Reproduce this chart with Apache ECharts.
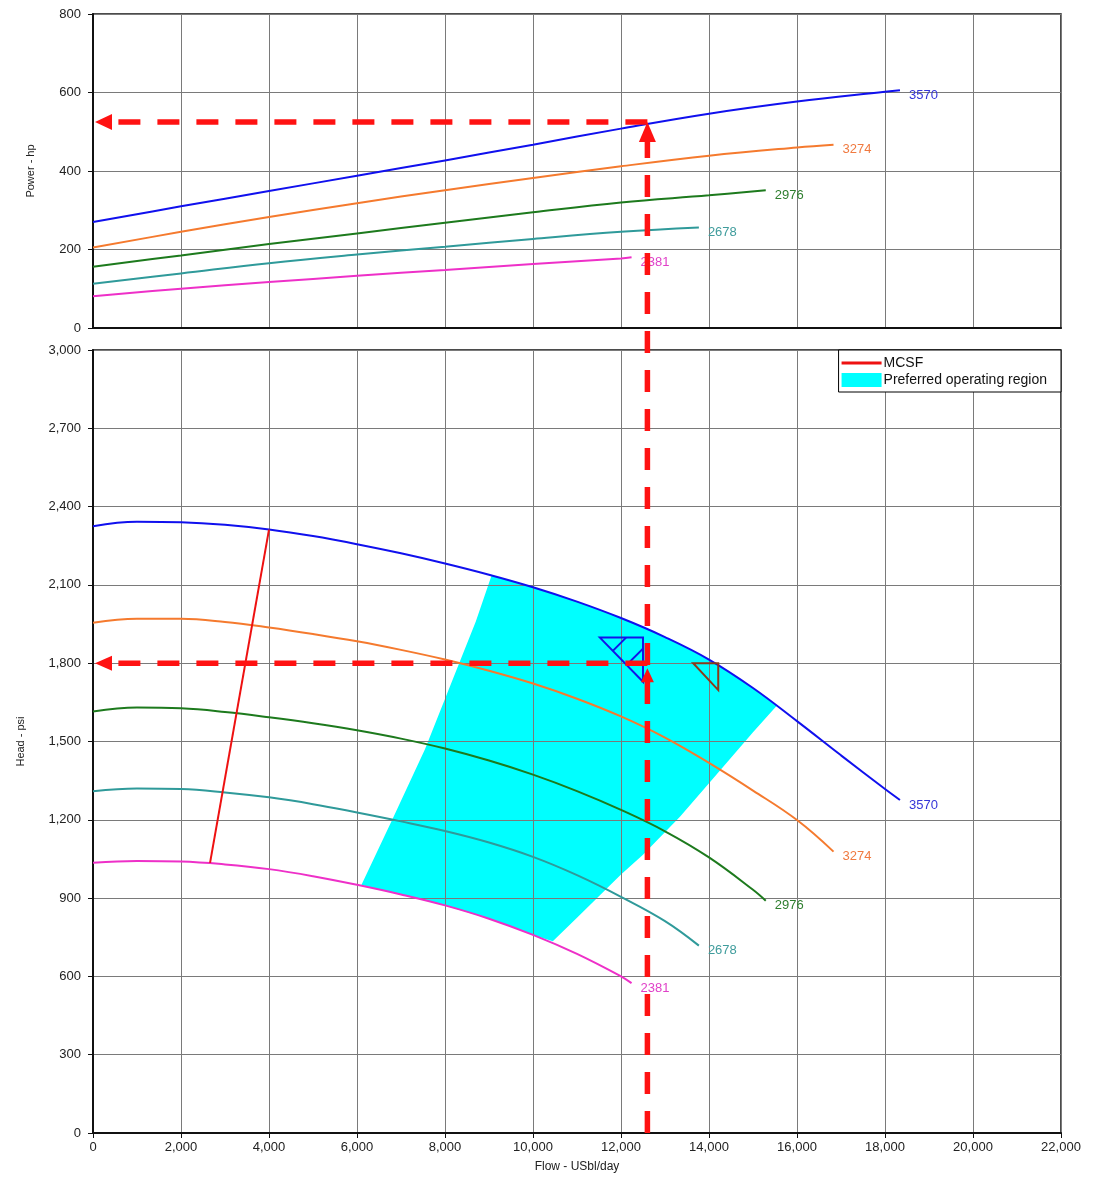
<!DOCTYPE html>
<html>
<head>
<meta charset="utf-8">
<script src="https://cdn.jsdelivr.net/npm/echarts@6/dist/echarts.min.js"></script>
<style>
  html, body { margin: 0; padding: 0; background: #fff; }
  #chart { width: 1099px; height: 1178px; }
</style>
</head>
<body>
<div id="chart"></div>
<script>
// Pump speeds (rpm) and their curve colours
const speeds = ['3570', '3274', '2976', '2678', '2381'];
const lineColors = ['#1010ee', '#f57a2e', '#1d7a1d', '#2f9a9a', '#ee30c8'];
const labelColors = ['#3535d8', '#f07a40', '#2e7e2e', '#3f9c9c', '#e040c8'];

// Power curves: [flow (USbl/day), power (hp)]
const power3570 = [[0,270],[2000,310],[4000,349],[6000,388],[8000,427],[10000,467],[12000,508],[14000,546],[16000,577],[18000,602],[18340,606]];
const power3274 = [[0,205],[2000,245],[4000,283],[6000,318],[8000,351],[10000,382],[12000,412],[14000,439],[16000,460],[16830,467]];
const power2976 = [[0,156],[2000,185],[4000,214],[6000,241],[8000,268],[10000,295],[12000,320],[14000,338],[15290,351]];
const power2678 = [[0,113],[2000,139],[4000,165],[6000,187],[8000,207],[10000,227],[12000,245],[13770,256]];
const power2381 = [[0,81],[2000,100],[4000,117],[6000,133],[8000,148],[10000,163],[12000,177],[12240,180]];

// Head curves: [flow (USbl/day), head (psi)]
const head3570 = [[0,2325],[1000,2342],[2000,2340],[3000,2330],[4000,2312],[5000,2287],[6000,2256],[7000,2221],[8000,2182],[9000,2139],[10000,2091],[11000,2036],[12000,1973],[13000,1900],[14000,1814],[15000,1705],[16000,1578],[17000,1447],[18000,1318],[18340,1276]];
const head3274 = [[0,1955],[1000,1970],[2000,1970],[3000,1958],[4000,1937],[5000,1912],[6000,1884],[7000,1851],[8000,1814],[9000,1771],[10000,1722],[11000,1664],[12000,1596],[13000,1515],[14000,1418],[15000,1312],[16000,1199],[16830,1078]];
const head2976 = [[0,1615],[1000,1630],[2000,1627],[3000,1613],[4000,1593],[5000,1570],[6000,1543],[7000,1511],[8000,1473],[9000,1427],[10000,1373],[11000,1310],[12000,1238],[13000,1156],[14000,1056],[15000,932],[15290,890]];
const head2678 = [[0,1309],[1000,1320],[2000,1318],[3000,1305],[4000,1286],[5000,1260],[6000,1228],[7000,1194],[8000,1157],[9000,1113],[10000,1058],[11000,988],[12000,905],[13000,812],[13770,718]];
const head2381 = [[0,1035],[1000,1042],[2000,1040],[3000,1029],[4000,1011],[5000,984],[6000,951],[7000,914],[8000,872],[9000,821],[10000,759],[11000,686],[12000,600],[12240,574]];

// Minimum continuous stable flow line
const mcsfLine = [[2660,1035],[4000,2312]];

// Preferred operating region outline (left edge, top along max speed, right edge, bottom along min speed)
const regionOutline = [
  [6100,950],[6800,1200],[7545,1470],[8175,1738],[8700,1960],[9060,2137],
  [10000,2091],[11000,2036],[12000,1973],[13000,1900],[14000,1814],[15000,1705],[15540,1637],
  [15000,1535],[14000,1340],[13340,1212],[12500,1066],[12000,990],[11000,825],[10450,735],
  [10000,759],[9000,821],[8000,872],[7000,914],[6100,950]
];

// Operating point markers (triangles)
const markerBlue = [[11520,1898],[12500,1898],[12500,1729]];
const markerBrown = [[13640,1800],[14210,1800],[14210,1697]];

// Selected operating point
const OP_FLOW = 12600;
const OP_HEAD = 1800;
const OP_POWER = 525;

const powerCurves = [power3570, power3274, power2976, power2678, power2381];
const headCurves = [head3570, head3274, head2976, head2678, head2381];

const FONT = 'Liberation Sans, Arial, sans-serif';
const GRID_COLOR = '#7a7a7a';
const AXIS_COLOR = '#111';
const MCSF_COLOR = '#ee1111';
const REGION_COLOR = '#00ffff';

function fmtThousands(v) { return v.toLocaleString('en-US'); }

function xAxisCfg(gridIndex, showLabels) {
  return {
    type: 'value', gridIndex, min: 0, max: 22000, interval: 2000, z: 3,
    axisLine: { show: true, onZero: false, lineStyle: { color: AXIS_COLOR, width: 2 } },
    axisTick: { show: showLabels, length: 5, lineStyle: { color: AXIS_COLOR } },
    axisLabel: { show: showLabels, formatter: fmtThousands, color: '#222', fontSize: 13, fontFamily: FONT, margin: 8 },
    splitLine: { show: true, lineStyle: { color: GRID_COLOR, width: 1 } },
    name: showLabels ? 'Flow - USbl/day' : '',
    nameLocation: 'middle', nameGap: 28,
    nameTextStyle: { color: '#222', fontSize: 12, fontFamily: FONT }
  };
}

function yAxisCfg(gridIndex, max, interval, name, nameGap, formatter) {
  return {
    type: 'value', gridIndex, min: 0, max, interval, z: 3,
    axisLine: { show: true, onZero: false, lineStyle: { color: AXIS_COLOR, width: 2 } },
    axisTick: { show: true, length: 5, lineStyle: { color: AXIS_COLOR } },
    axisLabel: { formatter, color: '#222', fontSize: 13, fontFamily: FONT, margin: 12 },
    splitLine: { show: true, lineStyle: { color: GRID_COLOR, width: 1 } },
    name, nameLocation: 'middle', nameGap,
    nameTextStyle: { color: '#222', fontSize: 11, fontFamily: FONT }
  };
}

function curveSeries(data, i, axisIndex) {
  return {
    type: 'line', name: speeds[i] + (axisIndex === 0 ? ' power' : ' head'),
    xAxisIndex: axisIndex, yAxisIndex: axisIndex,
    data, smooth: 0.4, symbol: 'none', z: 6,
    lineStyle: { color: lineColors[i], width: 2 },
    endLabel: {
      show: true, formatter: speeds[i], color: labelColors[i],
      fontSize: 13, fontFamily: FONT, distance: 9, offset: [0, 5]
    },
    emphasis: { disabled: true }, silent: true
  };
}

function triangleSeries(points, color, hatched) {
  return {
    type: 'custom', name: 'marker', xAxisIndex: 1, yAxisIndex: 1, z: 7,
    data: [points[0]], silent: true,
    renderItem: function (params, api) {
      const p = points.map(v => api.coord(v));
      const children = [{
        type: 'polygon', shape: { points: p },
        style: { fill: 'none', stroke: color, lineWidth: 2 }
      }];
      if (hatched) {
        // hatch strokes inside the triangle, running up-right from the sloping side
        [0.3, 0.62].forEach(t => {
          const sx = p[0][0] + t * (p[2][0] - p[0][0]);
          const sy = p[0][1] + t * (p[2][1] - p[0][1]);
          const d = Math.min(sy - p[0][1], p[1][0] - sx);
          children.push({
            type: 'line', shape: { x1: sx, y1: sy, x2: sx + d, y2: sy - d },
            style: { stroke: color, lineWidth: 2 }
          });
        });
      }
      return { type: 'group', children };
    }
  };
}

const series = [];
powerCurves.forEach((d, i) => series.push(curveSeries(d, i, 0)));
headCurves.forEach((d, i) => series.push(curveSeries(d, i, 1)));

series.push({
  type: 'custom', name: 'Preferred operating region',
  xAxisIndex: 1, yAxisIndex: 1, z: 1, silent: true,
  itemStyle: { color: REGION_COLOR },
  data: regionOutline,
  renderItem: function (params, api) {
    if (params.dataIndex !== 0) return null;
    return {
      type: 'polygon',
      shape: { points: regionOutline.map(v => api.coord(v)) },
      style: { fill: REGION_COLOR, stroke: 'none' }
    };
  }
});

series.push({
  type: 'line', name: 'MCSF', xAxisIndex: 1, yAxisIndex: 1, z: 6,
  data: mcsfLine, symbol: 'none', silent: true,
  itemStyle: { color: MCSF_COLOR },
  lineStyle: { color: MCSF_COLOR, width: 2 }
});

series.push(triangleSeries(markerBlue, '#1414e8', true));
series.push(triangleSeries(markerBrown, '#8b3a1a', false));

// legend swatch for the MCSF line: a bar across the middle of the icon box
const LINE_ICON = 'path://M0,0h0.01v0.01h-0.01z M0,5.5h40v3h-40z M39.99,13.99h0.01v0.01h-0.01z';

const option = {
  animation: false,
  backgroundColor: '#ffffff',
  textStyle: { fontFamily: FONT },
  grid: [
    { left: 93, right: 38, top: 14, height: 314, show: true, borderColor: AXIS_COLOR, borderWidth: 1.5, backgroundColor: 'transparent' },
    { left: 93, right: 38, top: 350, height: 783, show: true, borderColor: AXIS_COLOR, borderWidth: 1.5, backgroundColor: 'transparent' }
  ],
  xAxis: [xAxisCfg(0, false), xAxisCfg(1, true)],
  yAxis: [
    yAxisCfg(0, 800, 200, 'Power - hp', 57, v => String(v)),
    yAxisCfg(1, 3000, 300, 'Head - psi', 67, fmtThousands)
  ],
  legend: {
    data: [
      { name: 'MCSF', icon: LINE_ICON, itemStyle: { color: MCSF_COLOR } },
      { name: 'Preferred operating region', icon: 'rect', itemStyle: { color: REGION_COLOR } }
    ],
    orient: 'vertical', right: 38, top: 350, z: 20,
    itemWidth: 40, itemHeight: 14, itemGap: 3,
    padding: [6, 14, 5, 3],
    backgroundColor: '#fff', borderColor: '#000', borderWidth: 1,
    selectedMode: false,
    textStyle: { fontSize: 14, color: '#111', fontFamily: FONT, padding: [0, 0, 0, -3] }
  },
  series
};

const chart = echarts.init(document.getElementById('chart'));
chart.setOption(option);

// Dashed red guide lines tracing the operating point across both panels
const RED = '#ff1212';
const pBottom = chart.convertToPixel({ gridIndex: 1 }, [OP_FLOW, 0]);
const pHead = chart.convertToPixel({ gridIndex: 1 }, [OP_FLOW, OP_HEAD]);
const pHeadAxis = chart.convertToPixel({ gridIndex: 1 }, [0, OP_HEAD]);
const pPower = chart.convertToPixel({ gridIndex: 0 }, [OP_FLOW, OP_POWER]);
const pPowerAxis = chart.convertToPixel({ gridIndex: 0 }, [0, OP_POWER]);

function dashed(x1, y1, x2, y2) {
  return {
    type: 'line', z: 50, silent: true,
    shape: { x1, y1, x2, y2 },
    style: { stroke: RED, lineWidth: 5.5, lineDash: [22, 17] }
  };
}
function arrow(pts) {
  return { type: 'polygon', z: 51, silent: true, shape: { points: pts }, style: { fill: RED } };
}

const tipTopX = pPowerAxis[0] + 2;
const tipHeadX = pHeadAxis[0] + 2;
chart.setOption({
  graphic: [
    dashed(pPower[0], pPower[1], tipTopX + 17, pPower[1]),
    arrow([[tipTopX, pPower[1]], [tipTopX + 17, pPower[1] - 8], [tipTopX + 17, pPower[1] + 8]]),
    dashed(pBottom[0], pBottom[1], pPower[0], pPower[1] + 20),
    arrow([[pPower[0], pPower[1]], [pPower[0] - 8.5, pPower[1] + 20], [pPower[0] + 8.5, pPower[1] + 20]]),
    dashed(pHead[0], pHead[1], tipHeadX + 17, pHead[1]),
    arrow([[tipHeadX, pHead[1]], [tipHeadX + 17, pHead[1] - 7.5], [tipHeadX + 17, pHead[1] + 7.5]]),
    arrow([[pHead[0], pHead[1] + 5], [pHead[0] - 6.5, pHead[1] + 19], [pHead[0] + 6.5, pHead[1] + 19]])
  ]
});
</script>
</body>
</html>
